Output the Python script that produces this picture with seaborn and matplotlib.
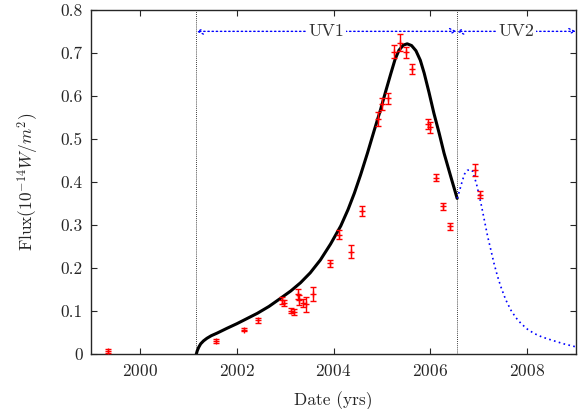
import numpy as np
import pandas as pd
import matplotlib
matplotlib.use("Agg")
import matplotlib.pyplot as plt
import seaborn as sns

obs_date = [1999.35, 2001.58, 2002.16, 2002.45, 2002.93, 2002.97, 2003.13, 2003.18,
            2003.26, 2003.29, 2003.37, 2003.44, 2003.58, 2003.93, 2004.12, 2004.36,
            2004.59, 2004.92, 2004.99, 2005.12, 2005.25, 2005.37, 2005.49, 2005.61,
            2005.94, 2005.99, 2006.12, 2006.26, 2006.41, 2006.92, 2007.02]
obs_flux = [0.007, 0.031, 0.057, 0.079, 0.125, 0.119, 0.101, 0.098,
            0.140, 0.126, 0.119, 0.116, 0.139, 0.211, 0.278, 0.238,
            0.333, 0.546, 0.582, 0.594, 0.703, 0.724, 0.701, 0.662,
            0.534, 0.527, 0.410, 0.344, 0.297, 0.428, 0.370]
obs_err = [0.004, 0.004, 0.004, 0.006, 0.008, 0.008, 0.006, 0.006,
           0.012, 0.012, 0.010, 0.018, 0.016, 0.008, 0.010, 0.015,
           0.012, 0.016, 0.014, 0.012, 0.015, 0.020, 0.012, 0.012,
           0.012, 0.012, 0.008, 0.008, 0.008, 0.014, 0.008]

# UV1 model curve
uv1_date = [2001.17, 2001.19, 2001.22, 2001.26, 2001.32, 2001.39, 2001.48, 2001.60,
            2001.80, 2002.01, 2002.22, 2002.43, 2002.67, 2002.91, 2003.12, 2003.32,
            2003.52, 2003.73, 2003.94, 2004.15, 2004.30, 2004.43, 2004.56, 2004.70,
            2004.84, 2004.97, 2005.08, 2005.18, 2005.27, 2005.35, 2005.44, 2005.52,
            2005.61, 2005.70, 2005.79, 2005.87, 2005.97, 2006.07, 2006.18, 2006.28,
            2006.42, 2006.55]
uv1_flux = [0.000, 0.008, 0.016, 0.024, 0.031, 0.037, 0.043, 0.049,
            0.060, 0.071, 0.083, 0.095, 0.111, 0.130, 0.147, 0.166,
            0.189, 0.219, 0.256, 0.298, 0.336, 0.374, 0.417, 0.467,
            0.520, 0.568, 0.612, 0.651, 0.685, 0.706, 0.718, 0.721,
            0.717, 0.705, 0.683, 0.653, 0.608, 0.560, 0.513, 0.467,
            0.412, 0.362]

# UV2 model curve
uv2_date = [2006.55, 2006.60, 2006.65, 2006.70, 2006.76, 2006.82, 2006.87, 2006.95,
            2007.04, 2007.11, 2007.18, 2007.25, 2007.31, 2007.38, 2007.45, 2007.55,
            2007.66, 2007.76, 2007.87, 2008.00, 2008.14, 2008.30, 2008.49, 2008.75,
            2009.00]
uv2_flux = [0.362, 0.380, 0.400, 0.418, 0.427, 0.429, 0.425, 0.395,
            0.351, 0.312, 0.273, 0.240, 0.211, 0.182, 0.157, 0.127,
            0.102, 0.085, 0.071, 0.058, 0.048, 0.040, 0.033, 0.024,
            0.017]

uv1_start = 2001.17
uv1_end = 2006.54
uv2_end = 2009.0

sns.set_style("ticks")
plt.rcParams["font.family"] = ["cmr10", "DejaVu Serif"]
plt.rcParams["mathtext.fontset"] = "cm"
plt.rcParams["axes.formatter.use_mathtext"] = True
plt.rcParams["font.size"] = 12.5

fig = plt.figure(figsize=(5.8, 4.09), dpi=100)
ax = fig.add_axes([0.157, 0.134, 0.836, 0.842])

uv1 = pd.DataFrame({"date": uv1_date, "flux": uv1_flux})
uv2 = pd.DataFrame({"date": uv2_date, "flux": uv2_flux})

sns.lineplot(data=uv1, x="date", y="flux", color="black", lw=2.2, ax=ax)
sns.lineplot(data=uv2, x="date", y="flux", color="blue", lw=1.2,
             linestyle=(0, (1, 2)), ax=ax)

ax.errorbar(obs_date, obs_flux, yerr=obs_err, fmt="+", color="red",
            ms=4, mew=1, elinewidth=1, capsize=2, capthick=1, zorder=5)

for xv in (uv1_start, uv1_end):
    ax.axvline(xv, color="black", lw=0.6, linestyle=(0, (1, 1.5)), zorder=1)

for x0, x1, lab in [(uv1_start, uv1_end, "UV1"), (uv1_end, uv2_end, "UV2")]:
    ax.annotate("", xy=(x0, 0.75), xytext=(x1, 0.75),
                arrowprops=dict(arrowstyle="<->", color="blue", lw=1,
                                linestyle=(0, (1, 2)), shrinkA=0, shrinkB=0,
                                mutation_scale=10))
    ax.text((x0 + x1) / 2, 0.75, lab, ha="center", va="center", fontsize=13,
            color="#333333",
            bbox=dict(facecolor="white", edgecolor="none", pad=1))

ax.set_xlim(1999, 2009)
ax.set_ylim(0, 0.8)
ax.set_xticks([2000, 2002, 2004, 2006, 2008])
ax.set_yticks(np.arange(0, 0.81, 0.1))
ax.set_yticklabels(["0", "0.1", "0.2", "0.3", "0.4", "0.5", "0.6", "0.7", "0.8"])
ax.tick_params(direction="in", top=True, right=True, length=4, width=0.8, pad=6)
for sp in ax.spines.values():
    sp.set_linewidth(1)

ax.set_xlabel("Date (yrs)", labelpad=9)
ax.set_ylabel(r"Flux$(10^{-14}W/m^2)$", labelpad=14)

fig.savefig("out.png", dpi=100)
